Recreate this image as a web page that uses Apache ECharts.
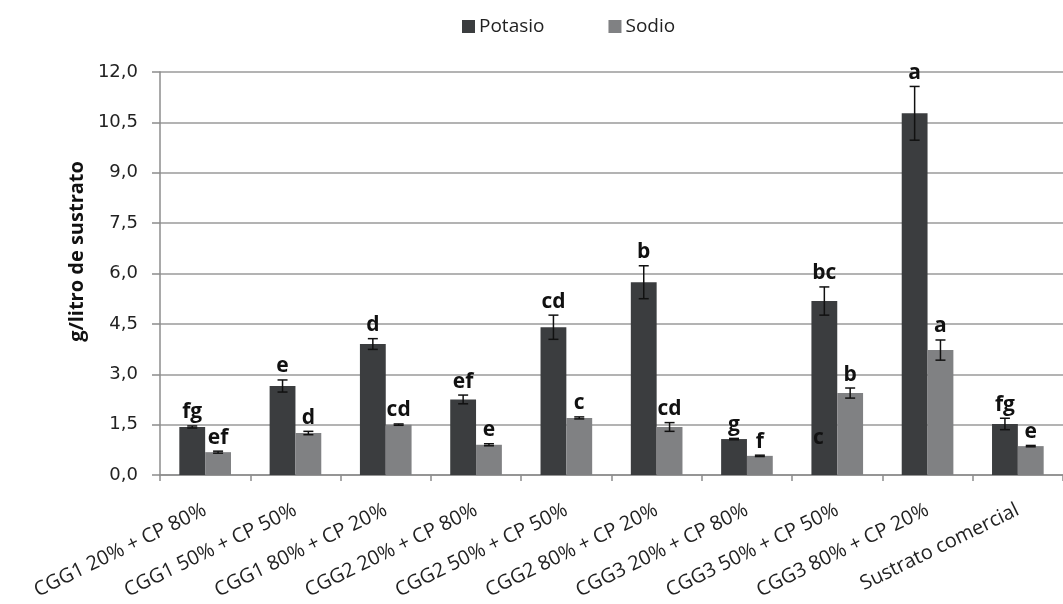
<!DOCTYPE html>
<html>
<head>
<meta charset="utf-8">
<script src="https://cdn.jsdelivr.net/npm/echarts@6/dist/echarts.min.js"></script>
<style>
  html, body { margin: 0; padding: 0; background: #fff; }
  #chart { width: 1063px; height: 604px; }
</style>
</head>
<body>
<div id="chart"></div>
<script>
const categories = [
  'CGG1 20% + CP 80%', 'CGG1 50% + CP 50%', 'CGG1 80% + CP 20%',
  'CGG2 20% + CP 80%', 'CGG2 50% + CP 50%', 'CGG2 80% + CP 20%',
  'CGG3 20% + CP 80%', 'CGG3 50% + CP 50%', 'CGG3 80% + CP 20%',
  'Sustrato comercial'
];
const potasio    = [1.43, 2.65, 3.90, 2.25, 4.40, 5.74, 1.07, 5.18, 10.77, 1.52];
const potasioErr = [0.03, 0.18, 0.16, 0.13, 0.36, 0.49, 0.02, 0.42, 0.80, 0.17];
const sodio      = [0.68, 1.25, 1.50, 0.90, 1.70, 1.43, 0.57, 2.44, 3.72, 0.86];
const sodioErr   = [0.03, 0.05, 0.02, 0.03, 0.03, 0.13, 0.02, 0.15, 0.30, 0.02];
const potasioLetters = ['fg', 'e', 'd', 'ef', 'cd', 'b', 'g', 'bc', 'a', 'fg'];
const sodioLetters   = ['ef', 'd', 'cd', 'e', 'c', 'cd', 'f', 'b', 'a', 'e'];
// additional letter printed low inside the CGG3 50% potasio bar
const potasioExtraCat = [7];
const potasioExtraVal = [1.1];
const potasioExtraTxt = ['c'];
const yTicks = [0, 1.5, 3, 4.5, 6, 7.5, 9, 10.5, 12];

const colPot = '#3b3d3f';
const colSod = '#808183';
const BAR_FRAC = 0.286;   // each bar's share of the category band
const labelFont = '"Open Sans", "DejaVu Sans", sans-serif';

function errRender(side) {
  return function (params, api) {
    const ci = api.value(0);
    const v = api.value(1);
    const e = api.value(2);
    const letter = api.value(3);
    const band = api.size([1, 0])[0];
    const dx = side * band * BAR_FRAC / 2;
    const top = api.coord([ci, v + e]);
    const bot = api.coord([ci, v - e]);
    const x = top[0] + dx;
    const cap = 5;
    const st = { stroke: '#111', lineWidth: 1.5 };
    return {
      type: 'group',
      children: [
        { type: 'line', shape: { x1: x, y1: top[1], x2: x, y2: bot[1] }, style: st },
        { type: 'line', shape: { x1: x - cap, y1: top[1], x2: x + cap, y2: top[1] }, style: st },
        { type: 'line', shape: { x1: x - cap, y1: bot[1], x2: x + cap, y2: bot[1] }, style: st },
        { type: 'text', x: x, y: top[1] - 3,
          style: { text: letter, fill: '#111', font: 'bold 21px ' + labelFont,
                   align: 'center', verticalAlign: 'bottom' } }
      ]
    };
  };
}

function textRender(side) {
  return function (params, api) {
    const ci = api.value(0);
    const v = api.value(1);
    const band = api.size([1, 0])[0];
    const p = api.coord([ci, v]);
    return {
      type: 'text', x: p[0] + side * band * BAR_FRAC / 2 - 6, y: p[1],
      style: { text: api.value(2), fill: '#111', font: 'bold 21px ' + labelFont,
               align: 'center', verticalAlign: 'middle' }
    };
  };
}

const chart = echarts.init(document.getElementById('chart'));
chart.setOption({
  animation: false,
  backgroundColor: '#ffffff',
  legend: {
    top: 12,
    left: 457,
    itemGap: 64,
    itemWidth: 13,
    itemHeight: 13,
    icon: 'rect',
    textStyle: { fontFamily: labelFont, fontSize: 19, color: '#222', padding: [0, 0, 0, -1] },
    data: ['Potasio', 'Sodio']
  },
  grid: { left: 160, right: -7, top: 72, bottom: 129, containLabel: false },
  xAxis: {
    type: 'category',
    data: categories,
    axisLine: { lineStyle: { color: '#8c8c8c', width: 1.5 } },
    axisTick: { show: true, length: 6, alignWithLabel: false, lineStyle: { color: '#8c8c8c', width: 1.5 } },
    axisLabel: {
      interval: 0, rotate: 26, fontFamily: labelFont, fontSize: 20, color: '#222', margin: 34
    }
  },
  yAxis: {
    type: 'value',
    min: 0, max: 12, interval: 1.5,
    name: 'g/litro de sustrato',
    nameLocation: 'middle',
    nameGap: 70,
    nameTextStyle: {
      fontFamily: labelFont, fontWeight: 'bold', fontSize: 20, color: '#111',
      padding: [0, 0, 0, 44]
    },
    axisLine: { show: true, lineStyle: { color: '#8c8c8c', width: 1.5 } },
    axisTick: { show: true, length: 8, inside: false, lineStyle: { color: '#8c8c8c', width: 1.5 } },
    axisLabel: {
      fontFamily: '"DejaVu Sans", sans-serif', fontSize: 18, color: '#222', margin: 22,
      formatter: v => yTicks.includes(v) ? v.toFixed(1).replace('.', ',') : ''
    },
    splitLine: { lineStyle: { color: '#9a9a9a', width: 1.5 } }
  },
  series: [
    {
      name: 'Potasio', type: 'bar', data: potasio,
      barWidth: (BAR_FRAC * 100) + '%', barGap: '0%',
      itemStyle: { color: colPot }
    },
    {
      name: 'Sodio', type: 'bar', data: sodio,
      barWidth: (BAR_FRAC * 100) + '%', barGap: '0%',
      itemStyle: { color: colSod }
    },
    {
      type: 'custom', name: 'errPot', renderItem: errRender(-1), z: 5,
      encode: { x: 0, y: 1 },
      data: potasio.map((v, i) => [i, v, potasioErr[i], potasioLetters[i]])
    },
    {
      type: 'custom', name: 'errSod', renderItem: errRender(1), z: 5,
      encode: { x: 0, y: 1 },
      data: sodio.map((v, i) => [i, v, sodioErr[i], sodioLetters[i]])
    },
    {
      type: 'custom', name: 'extra', renderItem: textRender(-1), z: 6,
      encode: { x: 0, y: 1 },
      data: potasioExtraCat.map((c, i) => [c, potasioExtraVal[i], potasioExtraTxt[i]])
    }
  ]
});
</script>
</body>
</html>
